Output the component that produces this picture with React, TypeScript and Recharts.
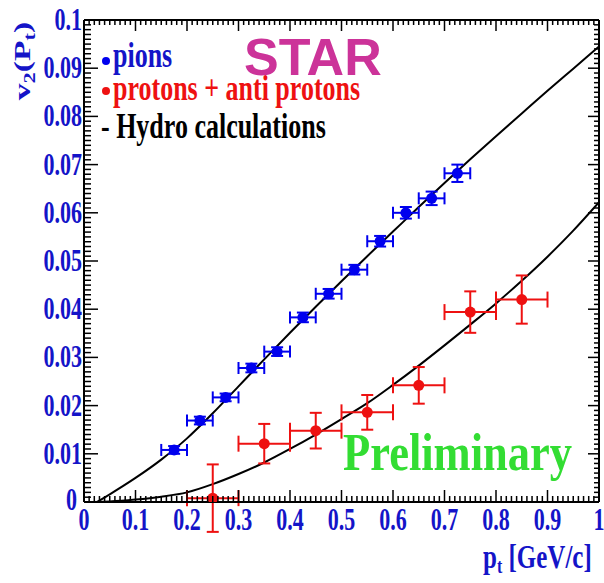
import { ComposedChart, Line, Scatter, ErrorBar, XAxis, YAxis } from 'recharts';

const pionPt = [0.175, 0.225, 0.275, 0.325, 0.375, 0.425, 0.475, 0.525, 0.575, 0.625, 0.675, 0.725];
const pionV2 = [0.0108, 0.0169, 0.0217, 0.0278, 0.0312, 0.0383, 0.0432, 0.0482, 0.0541, 0.06, 0.063, 0.0682];
const pionV2Err = [0.0008, 0.0008, 0.0008, 0.0009, 0.0009, 0.001, 0.001, 0.001, 0.0011, 0.0012, 0.0014, 0.0018];
const pionPtErr = 0.025;

const protonPt = [0.25, 0.35, 0.45, 0.55, 0.65, 0.75, 0.85];
const protonV2 = [0.0008, 0.0121, 0.0148, 0.0186, 0.0242, 0.0394, 0.042];
const protonV2Err = [0.007, 0.0041, 0.0037, 0.0036, 0.0038, 0.0043, 0.005];
const protonPtErr = 0.05;

// hydro calculations, sampled off the curves
const hydroPionPt = [0.025, 0.05, 0.1, 0.15, 0.2, 0.25, 0.3, 0.35, 0.4, 0.45, 0.5, 0.55, 0.6, 0.65, 0.7, 0.75, 0.8, 0.85, 0.9, 0.95, 1.0];
const hydroPionV2 = [0, 0.0016, 0.005, 0.0088, 0.0132, 0.0184, 0.024, 0.0296, 0.0351, 0.0405, 0.0458, 0.051, 0.0561, 0.0612, 0.0662, 0.0711, 0.0759, 0.0806, 0.0853, 0.0899, 0.0945];
const hydroProtonPt = [0.02, 0.05, 0.1, 0.15, 0.2, 0.25, 0.3, 0.35, 0.4, 0.45, 0.5, 0.55, 0.6, 0.65, 0.7, 0.75, 0.8, 0.85, 0.9, 0.95, 1.0];
const hydroProtonV2 = [0, 0.0001, 0.0005, 0.0011, 0.002, 0.0037, 0.0058, 0.0082, 0.011, 0.014, 0.0172, 0.0205, 0.0243, 0.0283, 0.0325, 0.0368, 0.0412, 0.0459, 0.0509, 0.0563, 0.0622];

const xTickLabels = ['0', '0.1', '0.2', '0.3', '0.4', '0.5', '0.6', '0.7', '0.8', '0.9', '1'];
const yTickLabels = ['0', '0.01', '0.02', '0.03', '0.04', '0.05', '0.06', '0.07', '0.08', '0.09', '0.1'];

const pionData = pionPt.map((x, i) => ({ x, y: pionV2[i], ex: pionPtErr, ey: pionV2Err[i] }));
const protonData = protonPt.map((x, i) => ({ x, y: protonV2[i], ex: protonPtErr, ey: protonV2Err[i] }));
const hydroPion = hydroPionPt.map((x, i) => ({ x, y: hydroPionV2[i] }));
const hydroProton = hydroProtonPt.map((x, i) => ({ x, y: hydroProtonV2[i] }));

// 10 minor divisions per labelled step
const xTicks = Array.from({ length: 101 }, (_, i) => i / 100);
const yTicks = Array.from({ length: 101 }, (_, i) => i / 1000);

const BLUE = '#1414c8';
const SERIF = '"Liberation Serif", "Times New Roman", serif';

const isMajorX = (v: number) => Math.round(v * 100) % 10 === 0;
const isMajorY = (v: number) => Math.round(v * 1000) % 10 === 0;

const BottomTick = ({ x, y, payload }: any) => {
  const major = isMajorX(payload.value);
  const idx = Math.round(payload.value * 10);
  return (
    <g>
      <line x1={x} x2={x} y1={y} y2={y - (major ? 12 : 6)} stroke="#000" strokeWidth={1.5} />
      {major && (
        <text
          transform={`translate(${x},${y + 28}) scale(1,1.4)`}
          textAnchor="middle"
          fontFamily={SERIF}
          fontWeight="bold"
          fontSize={22}
          fill={BLUE}
        >
          {xTickLabels[idx]}
        </text>
      )}
    </g>
  );
};

const TopTick = ({ x, y, payload }: any) => {
  const major = isMajorX(payload.value);
  return <line x1={x} x2={x} y1={y} y2={y + (major ? 11 : 5)} stroke="#000" strokeWidth={1.5} />;
};

const LeftTick = ({ x, y, payload }: any) => {
  const major = isMajorY(payload.value);
  const idx = Math.round(payload.value * 100);
  const zero = idx === 0;
  return (
    <g>
      <line x1={x} x2={x + (major ? 14 : 7)} y1={y} y2={y} stroke="#000" strokeWidth={1.5} />
      {major && (
        <text
          transform={`translate(${zero ? x - 7 : x - 2},${zero ? y + 8 : y + 10}) scale(1,1.4)`}
          textAnchor="end"
          fontFamily={SERIF}
          fontWeight="bold"
          fontSize={22}
          fill={BLUE}
        >
          {yTickLabels[idx]}
        </text>
      )}
    </g>
  );
};

const RightTick = ({ x, y, payload }: any) => {
  const major = isMajorY(payload.value);
  return <line x1={x} x2={x - (major ? 11 : 5)} y1={y} y2={y} stroke="#000" strokeWidth={1.5} />;
};

const Dot = (color: string) => (props: any) => <circle cx={props.cx} cy={props.cy} r={5.5} fill={color} />;

export default function App() {
  return (
    <div style={{ position: 'absolute', left: 0, top: 0, width: 604, height: 583, background: '#fff' }}>
      <ComposedChart width={604} height={583} margin={{ top: 15, right: 0, bottom: 51, left: 24 }}>
        <XAxis
          xAxisId="bottom"
          type="number"
          dataKey="x"
          domain={[0, 1]}
          allowDataOverflow
          ticks={xTicks}
          interval={0}
          height={30}
          tickSize={0}
          tickMargin={0}
          axisLine={{ stroke: '#000', strokeWidth: 2 }}
          tick={BottomTick}
        />
        <XAxis
          xAxisId="top"
          orientation="top"
          type="number"
          dataKey="x"
          domain={[0, 1]}
          allowDataOverflow
          ticks={xTicks}
          interval={0}
          height={5}
          tickSize={0}
          tickMargin={0}
          axisLine={{ stroke: '#000', strokeWidth: 2 }}
          tick={TopTick}
        />
        <YAxis
          yAxisId="left"
          type="number"
          dataKey="y"
          domain={[0, 0.1]}
          allowDataOverflow
          ticks={yTicks}
          interval={0}
          width={60}
          tickSize={0}
          tickMargin={0}
          axisLine={{ stroke: '#000', strokeWidth: 2 }}
          tick={LeftTick}
        />
        <YAxis
          yAxisId="right"
          orientation="right"
          type="number"
          dataKey="y"
          domain={[0, 0.1]}
          allowDataOverflow
          ticks={yTicks}
          interval={0}
          width={5}
          tickSize={0}
          tickMargin={0}
          axisLine={{ stroke: '#000', strokeWidth: 2 }}
          tick={RightTick}
        />
        <Line
          xAxisId="bottom"
          yAxisId="left"
          data={hydroPion}
          dataKey="y"
          type="monotone"
          stroke="#000"
          strokeWidth={2}
          dot={false}
          isAnimationActive={false}
        />
        <Line
          xAxisId="bottom"
          yAxisId="left"
          data={hydroProton}
          dataKey="y"
          type="monotone"
          stroke="#000"
          strokeWidth={2}
          dot={false}
          isAnimationActive={false}
        />
        <Scatter xAxisId="bottom" yAxisId="left" data={pionData} shape={Dot('#0000ee')} isAnimationActive={false}>
          <ErrorBar dataKey="ex" direction="x" width={6} stroke="#0000ee" strokeWidth={2} />
          <ErrorBar dataKey="ey" direction="y" width={6} stroke="#0000ee" strokeWidth={2} />
        </Scatter>
        <Scatter xAxisId="bottom" yAxisId="left" data={protonData} shape={Dot('#ee1111')} isAnimationActive={false}>
          <ErrorBar dataKey="ex" direction="x" width={8} stroke="#ee1111" strokeWidth={2} />
          <ErrorBar dataKey="ey" direction="y" width={6} stroke="#ee1111" strokeWidth={2} />
        </Scatter>
      </ComposedChart>

      <svg width={604} height={583} style={{ position: 'absolute', left: 0, top: 0, pointerEvents: 'none' }}>
        <text
          transform="translate(30,61) rotate(-90) scale(1.4,1)"
          textAnchor="middle"
          fontFamily={SERIF}
          fontWeight="bold"
          fontSize={24}
          fill={BLUE}
        >
          v<tspan fontSize={16} dy={5}>2</tspan>
          <tspan dy={-5}>(P</tspan>
          <tspan fontSize={16} dy={5}>t</tspan>
          <tspan dy={-5}>)</tspan>
        </text>
        <text
          transform="translate(483,568) scale(1,1.32)"
          fontFamily={SERIF}
          fontWeight="bold"
          fontSize={25}
          fill={BLUE}
        >
          p<tspan fontSize={16} dy={4}>t</tspan>
          <tspan dy={-4}> [GeV/c]</tspan>
        </text>

        <circle cx={106} cy={61} r={4} fill="#0000ee" />
        <text transform="translate(113,67) scale(1,1.35)" fontFamily={SERIF} fontWeight="bold" fontSize={26} fill={BLUE}>
          pions
        </text>
        <circle cx={106} cy={91} r={4} fill="#ee1111" />
        <text transform="translate(113,100) scale(1,1.35)" fontFamily={SERIF} fontWeight="bold" fontSize={26} fill="#ee1111">
          protons + anti protons
        </text>
        <text transform="translate(101,138) scale(1,1.35)" fontFamily={SERIF} fontWeight="bold" fontSize={26} fill="#000">
          - Hydro calculations
        </text>

        <text x={244} y={75} fontFamily='"Liberation Sans", Arial, sans-serif' fontWeight="bold" fontSize={52} fill="#cc3399">
          STAR
        </text>
        <text transform="translate(343,470) scale(1,1.19)" fontFamily={SERIF} fontWeight="bold" fontSize={44.5} fill="#33dd33">
          Preliminary
        </text>
      </svg>
    </div>
  );
}
